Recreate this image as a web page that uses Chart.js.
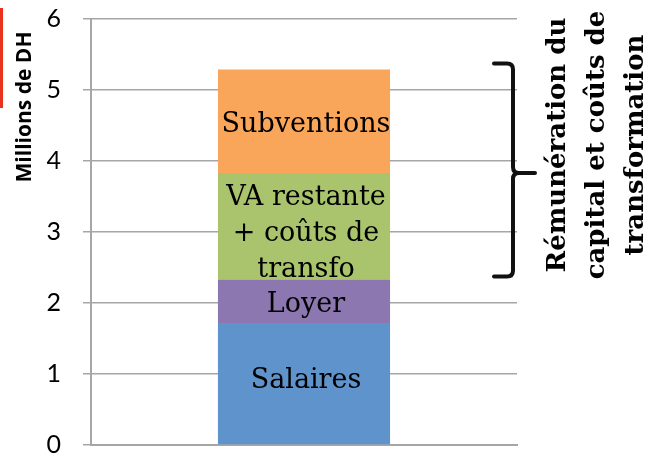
<!DOCTYPE html>
<html>
<head>
<meta charset="utf-8">
<script src="https://cdn.jsdelivr.net/npm/chart.js@4.4.0/dist/chart.umd.min.js"></script>
<style>
  html, body { margin: 0; padding: 0; background: #fff; overflow: hidden; }
  #wrap { position: relative; width: 664px; height: 470px; }
  #redmark { position: absolute; left: 0; top: 8px; width: 3px; height: 100px; background: #e8321e; }
</style>
</head>
<body>
<div id="wrap">
  <canvas id="bar-chart" width="664" height="470"></canvas>
  <div id="redmark"></div>
</div>
<script>
// stacked value added bar
var categories = [''];
var segmentNames = ['Salaires', 'Loyer', 'VA restante + coûts de transfo', 'Subventions'];
var segmentLabels = [['Salaires'], ['Loyer'], ['VA restante', '+ coûts de', 'transfo'], ['Subventions']];
var segmentValues = [1.72, 0.61, 1.50, 1.46];
var segmentColors = ['#5f93cb', '#8d77b0', '#a9c46c', '#f9a55a'];
var yTicks = [0, 1, 2, 3, 4, 5, 6];
var yTitle = 'Millions de DH';
var braceText = ['Rémunération du', 'capital et coûts de', 'transformation'];
// brace covers the last two segments
var braceFrom = 2;

var datasets = segmentNames.map(function (name, i) {
    return {
        label: name,
        data: [segmentValues[i]],
        backgroundColor: segmentColors[i],
        borderWidth: 0,
        categoryPercentage: 1,
        barPercentage: 0.404
    };
});

// text inside bars
var labelShift = [-3, 4, 8, 4];
var barTextPlugin = {
    id: 'barText',
    afterDatasetsDraw: function (chart) {
        var ctx = chart.ctx;
        ctx.save();
        ctx.fillStyle = '#000';
        ctx.font = '27px "DejaVu Serif", "Liberation Serif", serif';
        ctx.textAlign = 'center';
        ctx.textBaseline = 'middle';
        chart.data.datasets.forEach(function (ds, i) {
            var bar = chart.getDatasetMeta(i).data[0];
            var lines = segmentLabels[i];
            var mid = (bar.y + bar.base) / 2 + labelShift[i];
            var lh = 36;
            lines.forEach(function (line, k) {
                ctx.fillText(line, bar.x + 2, mid + (k - (lines.length - 1) / 2) * lh);
            });
        });
        ctx.restore();
    }
};

// y title, brace and side text
var annotationPlugin = {
    id: 'annot',
    afterDraw: function (chart) {
        var ctx = chart.ctx;
        var y = chart.scales.y;
        ctx.save();

        ctx.fillStyle = '#000';
        ctx.font = 'bold 21px "Open Sans", sans-serif';
        ctx.translate(25, 107);
        ctx.rotate(-Math.PI / 2);
        ctx.textAlign = 'center';
        ctx.textBaseline = 'middle';
        ctx.fillText(yTitle, 0, 0);
        ctx.restore();

        var lo = 0;
        for (var i = 0; i < braceFrom; i++) lo += segmentValues[i];
        var hi = lo;
        for (var j = braceFrom; j < segmentValues.length; j++) hi += segmentValues[j];
        var yTop = y.getPixelForValue(hi) - 6;
        var yBot = y.getPixelForValue(lo) - 3;
        var yMid = y.getPixelForValue(lo + segmentValues[braceFrom]);
        var xL = 494, xV = 513, xR = 535, r = 6;

        ctx.save();
        ctx.strokeStyle = '#111';
        ctx.lineWidth = 4;
        ctx.lineCap = 'round';
        ctx.beginPath();
        ctx.moveTo(xL, yTop);
        ctx.lineTo(xV - r, yTop);
        ctx.quadraticCurveTo(xV, yTop, xV, yTop + r);
        ctx.lineTo(xV, yMid - r);
        ctx.quadraticCurveTo(xV, yMid, xV + r, yMid);
        ctx.lineTo(xR, yMid);
        ctx.moveTo(xV + r, yMid);
        ctx.quadraticCurveTo(xV, yMid, xV, yMid + r);
        ctx.lineTo(xV, yBot - r);
        ctx.quadraticCurveTo(xV, yBot, xV - r, yBot);
        ctx.lineTo(xL, yBot);
        ctx.stroke();
        ctx.restore();

        ctx.save();
        ctx.fillStyle = '#000';
        ctx.font = 'bold 26px "DejaVu Serif", "Liberation Serif", serif';
        ctx.textAlign = 'center';
        ctx.textBaseline = 'middle';
        braceText.forEach(function (line, k) {
            ctx.save();
            ctx.translate(558 + k * 39, 145);
            ctx.rotate(-Math.PI / 2);
            ctx.fillText(line, 0, 0);
            ctx.restore();
        });
        ctx.restore();
    }
};

var ctx = document.getElementById('bar-chart').getContext('2d');
var myChart = new Chart(ctx, {
    type: 'bar',
    data: {
        labels: categories,
        datasets: datasets
    },
    options: {
        responsive: false,
        animation: false,
        layout: {
            padding: { left: 0, right: 147, top: 19, bottom: 25 }
        },
        plugins: {
            legend: { display: false },
            tooltip: { enabled: false }
        },
        scales: {
            x: {
                stacked: true,
                ticks: { display: false },
                grid: { display: false, drawTicks: false },
                border: { display: true, color: '#a6a6a6', width: 2 }
            },
            y: {
                stacked: true,
                min: 0,
                max: 6,
                afterBuildTicks: function (axis) {
                    axis.ticks = yTicks.map(function (v) { return { value: v }; });
                },
                afterFit: function (axis) {
                    axis.width = 91;
                    axis.paddingTop = 0;
                    axis.paddingBottom = 0;
                },
                ticks: {
                    color: '#000',
                    padding: 22,
                    font: { family: 'Lato, "Open Sans", sans-serif', size: 25 }
                },
                grid: {
                    color: '#a6a6a6',
                    lineWidth: 1.5,
                    tickLength: 8,
                    drawTicks: true
                },
                border: { display: true, color: '#a6a6a6', width: 2 }
            }
        }
    },
    plugins: [barTextPlugin, annotationPlugin]
});
</script>
</body>
</html>
